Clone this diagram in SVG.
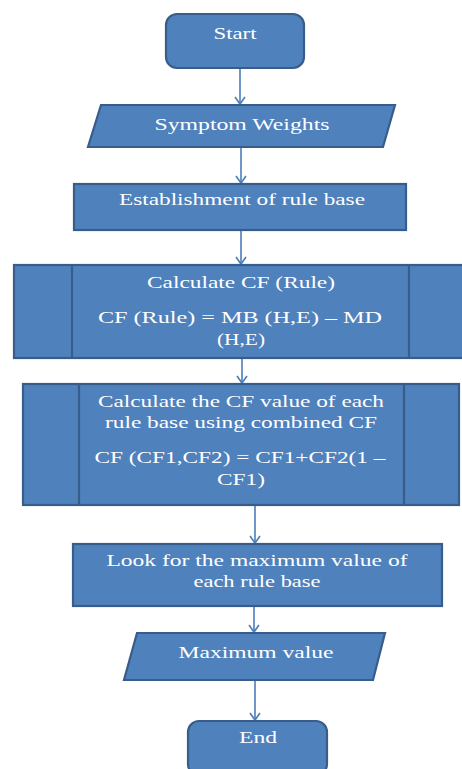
<svg xmlns="http://www.w3.org/2000/svg" width="462" height="769" viewBox="0 0 462 769">
<style>
.shape{fill:#4F81BD;stroke:#385D8A;stroke-width:2.2}
.div{stroke:#385D8A;stroke-width:2.2;fill:none}
.t{font-family:"Liberation Serif","Times New Roman",serif;font-size:16px;fill:#ffffff;text-anchor:middle}
.c{stroke:#4A7EBB;stroke-width:1.6;fill:none}
</style>
<defs>
<marker id="ah" markerUnits="userSpaceOnUse" markerWidth="12" markerHeight="12" refX="10" refY="6" orient="auto">
<path d="M3,1 L10,6 L3,11" fill="none" stroke="#4A7EBB" stroke-width="1.6"/>
</marker>
</defs>
<rect width="462" height="769" fill="#ffffff"/>
<g id="connectors">
<line class="c" x1="240" y1="68" x2="240" y2="104" marker-end="url(#ah)"/>
<line class="c" x1="241" y1="147" x2="241" y2="183" marker-end="url(#ah)"/>
<line class="c" x1="241" y1="230" x2="241" y2="264" marker-end="url(#ah)"/>
<line class="c" x1="242" y1="358" x2="242" y2="383" marker-end="url(#ah)"/>
<line class="c" x1="255" y1="505" x2="255" y2="543" marker-end="url(#ah)"/>
<line class="c" x1="254" y1="606" x2="254" y2="632" marker-end="url(#ah)"/>
<line class="c" x1="255" y1="680" x2="255" y2="720" marker-end="url(#ah)"/>
</g>
<g id="start">
<rect class="shape" x="166" y="14" width="138" height="54" rx="11"/>
<text class="t" x="235" y="39" textLength="43" lengthAdjust="spacingAndGlyphs">Start</text>
</g>
<g id="symptom">
<polygon class="shape" points="101,105 395,105 383,147 88,147"/>
<text class="t" x="242" y="130" textLength="175" lengthAdjust="spacingAndGlyphs">Symptom Weights</text>
</g>
<g id="establish">
<rect class="shape" x="74" y="184" width="332" height="46"/>
<text class="t" x="242" y="205" textLength="246" lengthAdjust="spacingAndGlyphs">Establishment of rule base</text>
</g>
<g id="calc-rule">
<rect class="shape" x="14" y="265" width="452" height="93"/>
<line class="div" x1="72" y1="265" x2="72" y2="358"/>
<line class="div" x1="409" y1="265" x2="409" y2="358"/>
<text class="t" x="241" y="288" textLength="188" lengthAdjust="spacingAndGlyphs">Calculate CF (Rule)</text>
<text class="t" x="240" y="323" textLength="284" lengthAdjust="spacingAndGlyphs">CF (Rule) = MB (H,E) – MD</text>
<text class="t" x="241" y="345" textLength="48" lengthAdjust="spacingAndGlyphs">(H,E)</text>
</g>
<g id="calc-combined">
<rect class="shape" x="23" y="384" width="436" height="121"/>
<line class="div" x1="79" y1="384" x2="79" y2="505"/>
<line class="div" x1="404" y1="384" x2="404" y2="505"/>
<text class="t" x="241" y="407" textLength="286" lengthAdjust="spacingAndGlyphs">Calculate the CF value of each</text>
<text class="t" x="241" y="428" textLength="272" lengthAdjust="spacingAndGlyphs">rule base using combined CF</text>
<text class="t" x="240" y="463" textLength="291" lengthAdjust="spacingAndGlyphs">CF (CF1,CF2) = CF1+CF2(1 –</text>
<text class="t" x="241" y="485" textLength="48" lengthAdjust="spacingAndGlyphs">CF1)</text>
</g>
<g id="look-max">
<rect class="shape" x="73" y="544" width="369" height="62"/>
<text class="t" x="257" y="566" textLength="301" lengthAdjust="spacingAndGlyphs">Look for the maximum value of</text>
<text class="t" x="257" y="587" textLength="127" lengthAdjust="spacingAndGlyphs">each rule base</text>
</g>
<g id="max-value">
<polygon class="shape" points="137,633 385,633 373,680 124,680"/>
<text class="t" x="256" y="658" textLength="155" lengthAdjust="spacingAndGlyphs">Maximum value</text>
</g>
<g id="end">
<rect class="shape" x="188" y="721" width="139" height="54" rx="11"/>
<text class="t" x="258" y="743" textLength="38" lengthAdjust="spacingAndGlyphs">End</text>
</g>
</svg>
